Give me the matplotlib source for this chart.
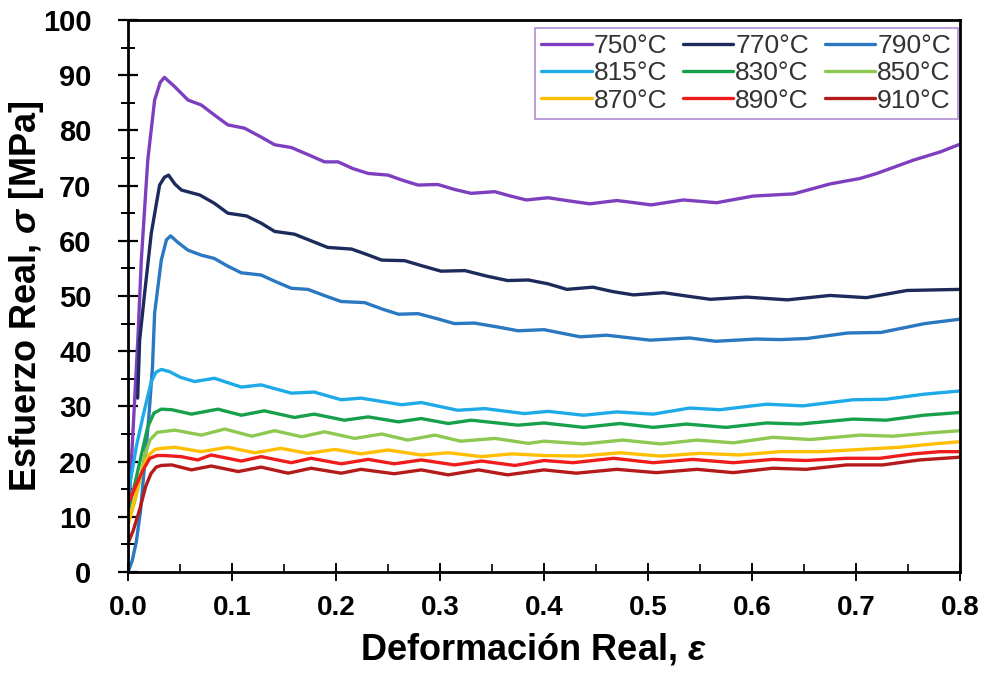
import matplotlib
matplotlib.use("Agg")
import matplotlib.pyplot as plt
from matplotlib.ticker import MultipleLocator, FormatStrFormatter

plt.rcParams["font.family"] = ["Liberation Sans", "DejaVu Sans"]
plt.rcParams["mathtext.fontset"] = "custom"
plt.rcParams["mathtext.it"] = "Liberation Sans:italic:bold"
plt.rcParams["mathtext.rm"] = "Liberation Sans:bold"

# ---- flow curves: true strain vs true stress (MPa) ----
labels = ["750°C", "770°C", "790°C", "815°C", "830°C", "850°C", "870°C", "890°C", "910°C"]
colors = ["#7E3FBF", "#1C2A5C", "#2A78C0", "#1EAAE8", "#17A04A",
          "#8DC850", "#FFBE00", "#EE1C1C", "#B51A1A"]

strain_750 = [0.001, 0.0096, 0.0128, 0.019, 0.0256, 0.031, 0.035, 0.045, 0.0577, 0.0705,
              0.083, 0.096, 0.112, 0.126, 0.141, 0.157, 0.172, 0.189, 0.202, 0.216,
              0.231, 0.25, 0.265, 0.279, 0.298, 0.314, 0.330, 0.3526, 0.368, 0.383,
              0.404, 0.425, 0.444, 0.470, 0.487, 0.503, 0.534, 0.566, 0.601, 0.640,
              0.675, 0.704, 0.72, 0.755, 0.781, 0.8]
stress_750 = [12, 42.6, 56.5, 74.6, 85.5, 88.7, 89.6, 87.9, 85.5, 84.6,
              82.8, 81.0, 80.4, 79.0, 77.4, 76.9, 75.7, 74.3, 74.3, 73.1,
              72.2, 71.9, 70.9, 70.1, 70.2, 69.3, 68.6, 68.9, 68.1, 67.4,
              67.8, 67.2, 66.7, 67.3, 66.9, 66.5, 67.4, 66.9, 68.1, 68.5,
              70.3, 71.3, 72.2, 74.6, 76.1, 77.5]

strain_770 = [0.0093, 0.0112, 0.016, 0.0224, 0.0304, 0.035, 0.039, 0.045, 0.0513, 0.069,
              0.083, 0.096, 0.114, 0.128, 0.141, 0.160, 0.176, 0.192, 0.215, 0.230,
              0.244, 0.266, 0.284, 0.301, 0.324, 0.345, 0.365, 0.385, 0.404, 0.422,
              0.447, 0.466, 0.486, 0.515, 0.537, 0.560, 0.595, 0.634, 0.675, 0.710,
              0.749, 0.8]
stress_770 = [31.5, 42.0, 50.5, 61.4, 70.1, 71.5, 71.9, 70.3, 69.2, 68.3,
              66.8, 65.0, 64.5, 63.2, 61.7, 61.2, 60.0, 58.8, 58.5, 57.5,
              56.5, 56.4, 55.4, 54.5, 54.6, 53.6, 52.8, 52.9, 52.2, 51.2,
              51.6, 50.8, 50.2, 50.6, 50.0, 49.4, 49.8, 49.3, 50.1, 49.7,
              51.0, 51.2]

strain_790 = [0, 0.004, 0.008, 0.012, 0.016, 0.020, 0.0235, 0.0256, 0.032, 0.037,
              0.041, 0.048, 0.0577, 0.0705, 0.083, 0.096, 0.109, 0.128, 0.142, 0.157,
              0.173, 0.190, 0.205, 0.2276, 0.245, 0.260, 0.279, 0.297, 0.314, 0.333,
              0.355, 0.375, 0.40, 0.435, 0.460, 0.502, 0.540, 0.565, 0.604, 0.627,
              0.653, 0.692, 0.724, 0.766, 0.8]
stress_790 = [0, 2, 5.5, 11, 19.5, 28, 37, 46.9, 56.5, 60.2,
              60.9, 59.7, 58.3, 57.4, 56.8, 55.4, 54.2, 53.8, 52.6, 51.4,
              51.2, 50.0, 49.0, 48.8, 47.6, 46.7, 46.8, 45.9, 45.0, 45.1,
              44.4, 43.7, 43.9, 42.6, 42.9, 42.0, 42.4, 41.8, 42.2, 42.1,
              42.3, 43.3, 43.4, 45.0, 45.8]

strain_815 = [0, 0.008, 0.015, 0.0224, 0.027, 0.032, 0.040, 0.050, 0.064, 0.083,
              0.109, 0.128, 0.157, 0.179, 0.205, 0.224, 0.263, 0.282, 0.317, 0.343,
              0.381, 0.404, 0.438, 0.470, 0.505, 0.540, 0.569, 0.614, 0.649, 0.697,
              0.729, 0.765, 0.8]
stress_815 = [14, 22.7, 28.7, 34.5, 36.2, 36.7, 36.3, 35.3, 34.5, 35.1,
              33.5, 33.9, 32.4, 32.6, 31.2, 31.5, 30.3, 30.7, 29.3, 29.6,
              28.7, 29.1, 28.4, 29.0, 28.6, 29.7, 29.4, 30.4, 30.1, 31.2,
              31.3, 32.2, 32.8]

strain_830 = [0, 0.006, 0.012, 0.019, 0.025, 0.032, 0.042, 0.061, 0.0865, 0.109,
              0.131, 0.160, 0.179, 0.208, 0.231, 0.26, 0.282, 0.308, 0.330, 0.375,
              0.400, 0.438, 0.473, 0.505, 0.537, 0.575, 0.614, 0.646, 0.697, 0.729,
              0.765, 0.8]
stress_830 = [11, 15.5, 20.5, 26.3, 28.8, 29.5, 29.4, 28.6, 29.5, 28.4,
              29.2, 28.0, 28.6, 27.5, 28.1, 27.2, 27.8, 26.9, 27.5, 26.6,
              27.0, 26.2, 26.9, 26.2, 26.8, 26.2, 27.0, 26.8, 27.7, 27.5,
              28.4, 28.9]

strain_850 = [0, 0.006, 0.0115, 0.016, 0.021, 0.028, 0.032, 0.045, 0.0705, 0.093,
              0.119, 0.141, 0.167, 0.189, 0.218, 0.244, 0.269, 0.295, 0.32, 0.353,
              0.385, 0.400, 0.438, 0.476, 0.512, 0.547, 0.582, 0.620, 0.656, 0.704,
              0.736, 0.771, 0.8]
stress_850 = [9, 12.5, 16.7, 21.0, 23.9, 25.3, 25.4, 25.7, 24.8, 25.9,
              24.6, 25.6, 24.5, 25.4, 24.2, 25.0, 23.9, 24.8, 23.7, 24.2,
              23.3, 23.7, 23.2, 23.9, 23.2, 23.9, 23.4, 24.4, 24.0, 24.8,
              24.6, 25.2, 25.6]

strain_870 = [0, 0.005, 0.01, 0.015, 0.02, 0.026, 0.032, 0.045, 0.0705, 0.096,
              0.122, 0.147, 0.173, 0.199, 0.224, 0.25, 0.282, 0.308, 0.34, 0.369,
              0.400, 0.435, 0.473, 0.512, 0.55, 0.588, 0.627, 0.665, 0.704, 0.742,
              0.774, 0.8]
stress_870 = [8.5, 12, 16, 19.2, 21.2, 22.2, 22.4, 22.6, 21.8, 22.6,
              21.6, 22.4, 21.5, 22.2, 21.4, 22.1, 21.2, 21.6, 20.9, 21.4,
              21.1, 21.0, 21.6, 21.0, 21.5, 21.2, 21.8, 21.8, 22.2, 22.6,
              23.2, 23.6]

strain_890 = [0, 0.005, 0.0115, 0.016, 0.021, 0.028, 0.035, 0.051, 0.067, 0.080,
              0.109, 0.128, 0.157, 0.176, 0.205, 0.231, 0.256, 0.282, 0.314, 0.340,
              0.372, 0.400, 0.428, 0.467, 0.505, 0.543, 0.582, 0.620, 0.652, 0.691,
              0.723, 0.755, 0.781, 0.8]
stress_890 = [12.4, 14.5, 17.3, 19.0, 20.6, 21.1, 21.1, 20.9, 20.3, 21.2,
              20.1, 20.9, 19.8, 20.6, 19.6, 20.4, 19.6, 20.3, 19.4, 20.1,
              19.3, 20.2, 19.8, 20.6, 19.8, 20.4, 19.8, 20.4, 20.2, 20.6,
              20.6, 21.4, 21.8, 21.8]

strain_910 = [0, 0.005, 0.0115, 0.017, 0.022, 0.027, 0.032, 0.042, 0.061, 0.080,
              0.106, 0.128, 0.154, 0.176, 0.205, 0.224, 0.256, 0.282, 0.308, 0.337,
              0.365, 0.40, 0.431, 0.470, 0.508, 0.547, 0.582, 0.620, 0.652, 0.691,
              0.726, 0.761, 0.8]
stress_910 = [5.2, 7.5, 11.5, 15.5, 17.8, 19.0, 19.3, 19.4, 18.5, 19.2,
              18.2, 19.0, 17.9, 18.8, 17.9, 18.6, 17.8, 18.5, 17.6, 18.5,
              17.6, 18.5, 17.9, 18.6, 18.0, 18.6, 18.0, 18.8, 18.6, 19.4,
              19.4, 20.3, 20.8]

strains = [strain_750, strain_770, strain_790, strain_815, strain_830,
           strain_850, strain_870, strain_890, strain_910]
stresses = [stress_750, stress_770, stress_790, stress_815, stress_830,
            stress_850, stress_870, stress_890, stress_910]

fig = plt.figure(figsize=(9.87, 6.77), dpi=100)
ax = fig.add_axes([128 / 987, 1 - 572 / 677, 832 / 987, 552 / 677])

handles = []
for x, y, c, lab in zip(strains, stresses, colors, labels):
    h, = ax.plot(x, y, color=c, lw=2.4, label=lab,
                 solid_joinstyle="round", solid_capstyle="round")
    handles.append(h)

ax.set_xlim(0, 0.8)
ax.set_ylim(0, 100)

ax.xaxis.set_major_locator(MultipleLocator(0.1))
ax.xaxis.set_minor_locator(MultipleLocator(0.05))
ax.yaxis.set_major_locator(MultipleLocator(10))
ax.yaxis.set_minor_locator(MultipleLocator(5))
ax.xaxis.set_major_formatter(FormatStrFormatter("%.1f"))

for s in ax.spines.values():
    s.set_linewidth(2.0)

ax.tick_params(axis="y", which="major", direction="inout", length=14.4, width=1.6,
               pad=19, labelsize=21)
ax.tick_params(axis="y", which="minor", direction="inout", length=10, width=1.4)
ax.tick_params(axis="x", which="major", direction="inout", length=13, width=1.4,
               pad=10, labelsize=20)
ax.tick_params(axis="x", which="minor", direction="in", length=6, width=1.2)
ax.tick_params(right=False, top=False)
for lbl in ax.get_xticklabels() + ax.get_yticklabels():
    lbl.set_fontweight("bold")

ax.set_xlabel(r"Deformación Real, $\varepsilon$", fontsize=26, fontweight="bold")
ax.xaxis.set_label_coords(0.487, -0.108)
ax.set_ylabel(r"Esfuerzo Real, $\sigma$ [MPa]", fontsize=26, fontweight="bold")
ax.yaxis.set_label_coords(-0.099, 0.5)

# legend entries laid out row by row across three columns
order = [0, 3, 6, 1, 4, 7, 2, 5, 8]
leg = ax.legend([handles[i] for i in order], [labels[i] for i in order],
                ncol=3, loc="upper right", bbox_to_anchor=(0.997, 0.986),
                fontsize=19, frameon=True, fancybox=False,
                handlelength=1.9, handletextpad=0.08, columnspacing=0.6,
                labelspacing=0.12, borderpad=0.25, borderaxespad=0.0)
leg.get_frame().set_edgecolor("#A57BD0")
leg.get_frame().set_linewidth(1.3)
for t in leg.get_texts():
    t.set_color("#333333")

fig.savefig("out.png", dpi=100)
